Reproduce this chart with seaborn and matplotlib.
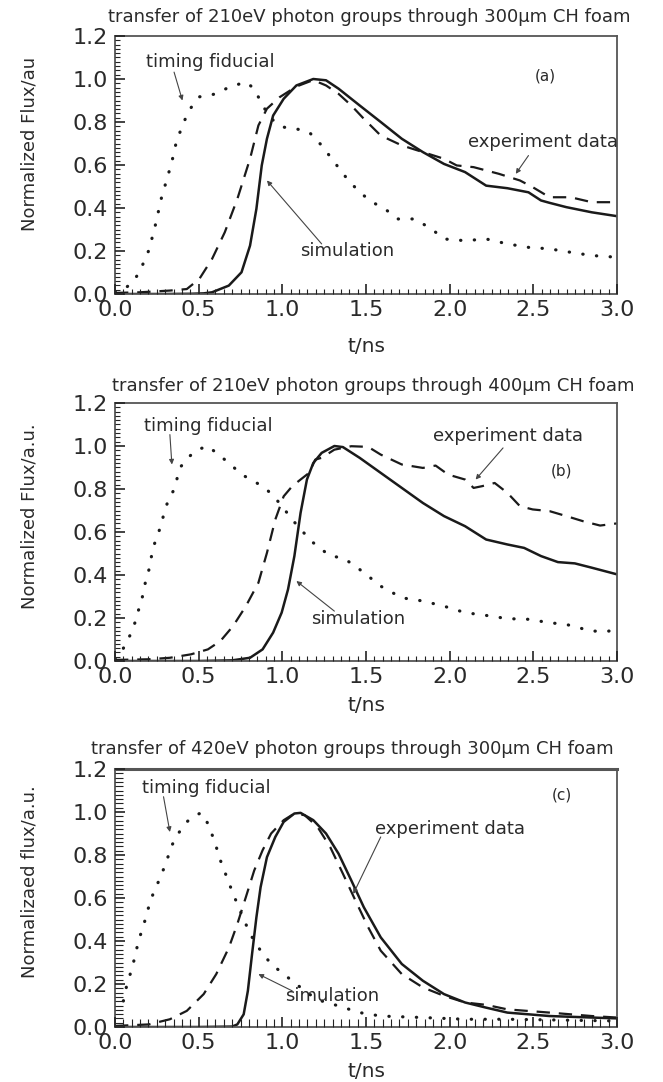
import matplotlib
matplotlib.use("Agg")
import matplotlib.pyplot as plt
import seaborn as sns
from matplotlib.ticker import MultipleLocator, FormatStrFormatter

# ---------------- panel (a): 210 eV, 300 um ----------------
fid_a_t = [0.0, 0.05, 0.10, 0.145, 0.203, 0.239, 0.279, 0.303, 0.339, 0.369, 0.399, 0.438,
           0.504, 0.605, 0.681, 0.782, 0.832, 0.882, 0.933, 1.008, 1.084, 1.160, 1.235,
           1.311, 1.387, 1.462, 1.538, 1.613, 1.689, 1.790, 1.891, 1.966, 2.092, 2.218,
           2.345, 2.471, 2.597, 2.723, 2.849, 3.0]
fid_a_v = [0.01, 0.02, 0.051, 0.099, 0.205, 0.313, 0.452, 0.515, 0.612, 0.716, 0.773, 0.850,
           0.917, 0.931, 0.962, 0.986, 0.955, 0.877, 0.815, 0.776, 0.768, 0.753, 0.691,
           0.613, 0.536, 0.473, 0.427, 0.396, 0.349, 0.349, 0.303, 0.256, 0.248, 0.256,
           0.233, 0.217, 0.210, 0.194, 0.179, 0.171]
exp_a_t = [0.0, 0.15, 0.328, 0.429, 0.504, 0.58, 0.656, 0.731, 0.807, 0.857, 0.908, 0.983,
           1.084, 1.185, 1.261, 1.336, 1.412, 1.487, 1.588, 1.714, 1.840, 1.966, 2.042,
           2.143, 2.294, 2.42, 2.496, 2.597, 2.723, 2.849, 3.0]
exp_a_v = [0.005, 0.008, 0.016, 0.023, 0.070, 0.163, 0.287, 0.442, 0.629, 0.784, 0.862, 0.915,
           0.965, 0.995, 0.970, 0.931, 0.877, 0.815, 0.737, 0.691, 0.660, 0.629, 0.598,
           0.590, 0.559, 0.528, 0.497, 0.450, 0.450, 0.427, 0.427]
sim_a_t = [0.0, 0.3, 0.45, 0.53, 0.58, 0.68, 0.756, 0.807, 0.845, 0.877, 0.908, 0.945, 1.008,
           1.084, 1.185, 1.261, 1.336, 1.462, 1.588, 1.714, 1.840, 1.966, 2.092, 2.218,
           2.345, 2.471, 2.546, 2.597, 2.697, 2.849, 3.0]
sim_a_v = [0.0, 0.0, 0.001, 0.003, 0.008, 0.039, 0.101, 0.225, 0.396, 0.598, 0.722, 0.830,
           0.908, 0.970, 1.0, 0.994, 0.955, 0.877, 0.80, 0.722, 0.660, 0.605, 0.567, 0.504,
           0.492, 0.473, 0.435, 0.424, 0.404, 0.380, 0.362]

# ---------------- panel (b): 210 eV, 400 um ----------------
fid_b_t = [0.0, 0.03, 0.060, 0.096, 0.120, 0.139, 0.160, 0.173, 0.189, 0.209, 0.219, 0.235,
           0.259, 0.279, 0.295, 0.319, 0.354, 0.388, 0.438, 0.488, 0.555, 0.605, 0.681,
           0.757, 0.832, 0.908, 0.983, 1.059, 1.109, 1.185, 1.286, 1.362, 1.437, 1.513,
           1.588, 1.714, 1.840, 1.966, 2.092, 2.218, 2.345, 2.471, 2.597, 2.697, 2.849,
           2.95, 3.0]
fid_b_v = [0.01, 0.03, 0.074, 0.129, 0.180, 0.233, 0.284, 0.335, 0.392, 0.439, 0.493, 0.543,
           0.594, 0.643, 0.694, 0.749, 0.799, 0.899, 0.947, 0.981, 1.0, 0.968, 0.921, 0.867,
           0.836, 0.797, 0.735, 0.658, 0.612, 0.55, 0.488, 0.48, 0.441, 0.395, 0.348, 0.294,
           0.279, 0.255, 0.225, 0.212, 0.197, 0.194, 0.178, 0.170, 0.139, 0.139, 0.147]
exp_b_t = [0.0, 0.2, 0.328, 0.454, 0.555, 0.63, 0.706, 0.782, 0.857, 0.908, 0.958, 1.008,
           1.059, 1.109, 1.160, 1.197, 1.235, 1.311, 1.412, 1.513, 1.588, 1.714, 1.84, 1.916,
           1.991, 2.092, 2.143, 2.193, 2.269, 2.345, 2.42, 2.496, 2.597, 2.697, 2.798,
           2.899, 3.0]
exp_b_v = [0.005, 0.008, 0.015, 0.031, 0.054, 0.093, 0.163, 0.255, 0.364, 0.503, 0.658,
           0.766, 0.813, 0.844, 0.875, 0.937, 0.945, 0.983, 0.999, 0.996, 0.96, 0.914, 0.898,
           0.909, 0.867, 0.844, 0.805, 0.813, 0.828, 0.782, 0.72, 0.705, 0.697, 0.674, 0.65,
           0.63, 0.64]
sim_b_t = [0.0, 0.5, 0.7, 0.807, 0.882, 0.945, 0.996, 1.034, 1.072, 1.109, 1.147, 1.185,
           1.235, 1.311, 1.362, 1.462, 1.588, 1.714, 1.840, 1.966, 2.092, 2.218, 2.345,
           2.445, 2.546, 2.647, 2.748, 2.849, 3.0]
sim_b_v = [0.0, 0.0, 0.003, 0.015, 0.054, 0.132, 0.225, 0.333, 0.488, 0.689, 0.844, 0.921,
           0.968, 1.0, 0.995, 0.945, 0.875, 0.805, 0.735, 0.674, 0.627, 0.565, 0.542, 0.526,
           0.488, 0.46, 0.454, 0.434, 0.403]

# ---------------- panel (c): 420 eV, 300 um ----------------
fid_c_t = [0.05, 0.076, 0.10, 0.129, 0.145, 0.166, 0.199, 0.235, 0.265, 0.303, 0.34, 0.378,
           0.429, 0.479, 0.517, 0.555, 0.593, 0.63, 0.668, 0.706, 0.756, 0.807, 0.870,
           0.933, 1.008, 1.084, 1.16, 1.235, 1.336, 1.462, 1.588, 1.84, 2.092, 2.345,
           2.597, 3.0]
fid_c_v = [0.121, 0.215, 0.265, 0.362, 0.413, 0.459, 0.552, 0.637, 0.684, 0.76, 0.845, 0.90,
           0.954, 0.985, 0.996, 0.946, 0.868, 0.775, 0.697, 0.619, 0.526, 0.433, 0.355,
           0.293, 0.246, 0.199, 0.153, 0.121, 0.098, 0.067, 0.051, 0.044, 0.036, 0.036,
           0.033, 0.028]
exp_c_t = [0.0, 0.202, 0.328, 0.429, 0.53, 0.605, 0.681, 0.731, 0.782, 0.832, 0.882, 0.933,
           1.008, 1.072, 1.134, 1.21, 1.286, 1.362, 1.437, 1.513, 1.588, 1.714, 1.84, 1.966,
           2.092, 2.218, 2.345, 2.597, 2.849, 3.0]
exp_c_v = [0.005, 0.012, 0.036, 0.075, 0.153, 0.246, 0.37, 0.479, 0.604, 0.728, 0.822, 0.9,
           0.962, 0.993, 0.985, 0.931, 0.837, 0.713, 0.588, 0.464, 0.355, 0.246, 0.184,
           0.145, 0.114, 0.103, 0.082, 0.067, 0.051, 0.044]
sim_c_t = [0.0, 0.5, 0.70, 0.731, 0.769, 0.794, 0.819, 0.845, 0.87, 0.908, 0.958, 1.008,
           1.072, 1.109, 1.185, 1.261, 1.336, 1.412, 1.487, 1.588, 1.714, 1.84, 1.966,
           2.092, 2.218, 2.345, 2.597, 2.849, 3.0]
sim_c_v = [0.0, 0.0, 0.002, 0.012, 0.059, 0.168, 0.339, 0.51, 0.65, 0.79, 0.884, 0.954,
           0.993, 0.996, 0.962, 0.90, 0.806, 0.682, 0.557, 0.417, 0.293, 0.215, 0.153,
           0.114, 0.09, 0.067, 0.051, 0.044, 0.04]

titles = ["transfer of 210eV photon groups through 300\u03bcm CH foam",
          "transfer of 210eV photon groups through 400\u03bcm CH foam",
          "transfer of 420eV photon groups through 300\u03bcm CH foam"]
ylabels = ["Normalized Flux/au", "Normalized Flux/a.u.", "Normalizaed flux/a.u."]
tags = ["(a)", "(b)", "(c)"]
xlabel = "t/ns"

sns.set_theme(style="white")
plt.rcParams["font.family"] = ["DejaVu Sans"]

INK = "#1a1a1a"
TXT = "#2a2a2a"
FRAME = "#555555"
TICK = "#222222"

fig = plt.figure(figsize=(6.63, 10.82), dpi=100)
fig.patch.set_facecolor("white")

W, H = 663.0, 1082.0
ax_left, ax_w, ax_h = 115 / W, 502 / W, 258 / H
ax_tops = [36, 403, 769]

panels = [
    dict(fid=(fid_a_t, fid_a_v), exp=(exp_a_t, exp_a_v), sim=(sim_a_t, sim_a_v),
         title_xy=(0.507, 1.074), ylab_y=0.581, xlab_y=-0.205,
         fid_txt=(0.57, 1.079), fid_arr=((0.353, 1.032), (0.403, 0.900)),
         exp_txt=(2.56, 0.706), exp_arr=((2.471, 0.644), (2.395, 0.559)),
         sim_txt=(1.39, 0.199), sim_arr=((1.235, 0.233), (0.908, 0.528)),
         tag_xy=(2.57, 1.014)),
    dict(fid=(fid_b_t, fid_b_v), exp=(exp_b_t, exp_b_v), sim=(sim_b_t, sim_b_v),
         title_xy=(0.514, 1.066), ylab_y=0.562, xlab_y=-0.171,
         fid_txt=(0.555, 1.092), fid_arr=((0.328, 1.053), (0.340, 0.914)),
         exp_txt=(2.35, 1.048), exp_arr=((2.319, 0.991), (2.155, 0.844)),
         sim_txt=(1.45, 0.194), sim_arr=((1.311, 0.232), (1.084, 0.372)),
         tag_xy=(2.67, 0.883)),
    dict(fid=(fid_c_t, fid_c_v), exp=(exp_c_t, exp_c_v), sim=(sim_c_t, sim_c_v),
         title_xy=(0.472, 1.078), ylab_y=0.564, xlab_y=-0.172,
         fid_txt=(0.548, 1.110), fid_arr=((0.29, 1.071), (0.328, 0.907)),
         exp_txt=(2.0, 0.923), exp_arr=((1.588, 0.884), (1.424, 0.619)),
         sim_txt=(1.30, 0.145), sim_arr=((1.059, 0.168), (0.857, 0.246)),
         tag_xy=(2.67, 1.079)),
]

arrow_kw = dict(arrowstyle="-|>", color="#444444", lw=0.8, mutation_scale=7,
                shrinkA=0, shrinkB=0)

for i, p in enumerate(panels):
    top = ax_tops[i]
    bottom = 1 - (top + 258) / H
    ax = fig.add_axes([ax_left, bottom, ax_w, ax_h])
    ax.set_facecolor("white")
    ax.set_axisbelow(False)

    sns.lineplot(x=p["fid"][0], y=p["fid"][1], ax=ax, color=INK, lw=2.3,
                 linestyle=(0, (0.1, 4.2)), dash_capstyle="round", sort=False)
    sns.lineplot(x=p["exp"][0], y=p["exp"][1], ax=ax, color=INK, lw=1.6,
                 linestyle=(0, (6, 4)), sort=False)
    sns.lineplot(x=p["sim"][0], y=p["sim"][1], ax=ax, color=INK, lw=1.8,
                 linestyle="-", sort=False)

    ax.set_xlim(0, 3.0)
    ax.set_ylim(0, 1.2)
    ax.xaxis.set_major_locator(MultipleLocator(0.5))
    ax.xaxis.set_minor_locator(MultipleLocator(0.05))
    ax.yaxis.set_major_locator(MultipleLocator(0.2))
    ax.yaxis.set_minor_locator(MultipleLocator(0.02))
    ax.xaxis.set_major_formatter(FormatStrFormatter("%.1f"))
    ax.yaxis.set_major_formatter(FormatStrFormatter("%.1f"))

    # inward ticks on the left and bottom edges only
    for axis in (ax.xaxis, ax.yaxis):
        axis.set_tick_params(which="both", direction="in", color=TICK,
                             tick1On=True, tick2On=False)
        axis.set_tick_params(which="major", length=7, width=1.2,
                             labelsize=16, labelcolor=TXT)
        axis.set_tick_params(which="minor", length=6 if i == 2 else 3.5, width=0.8)
    ax.xaxis.set_tick_params(which="major", pad=4)
    ax.yaxis.set_tick_params(which="major", pad=5)

    for name, sp in ax.spines.items():
        sp.set_visible(True)
        sp.set_color(FRAME)
        sp.set_linewidth(1.3)
    if i == 2:
        ax.spines["top"].set_linewidth(2.2)

    ax.set_xlabel(xlabel, fontsize=14.5, color=TXT, va="center")
    ax.xaxis.set_label_coords(0.5, p["xlab_y"])
    ax.set_ylabel(ylabels[i], fontsize=13, color=TXT, va="center")
    ax.yaxis.set_label_coords(-0.17, p["ylab_y"])

    ax.text(p["title_xy"][0], p["title_xy"][1], titles[i], transform=ax.transAxes,
            ha="center", va="center", fontsize=13, color=TXT)

    ax.text(*p["fid_txt"], "timing fiducial", ha="center", va="center",
            fontsize=13, color=TXT)
    ax.text(*p["exp_txt"], "experiment data", ha="center", va="center",
            fontsize=13, color=TXT)
    ax.text(*p["sim_txt"], "simulation", ha="center", va="center",
            fontsize=13, color=TXT)
    ax.text(*p["tag_xy"], tags[i], ha="center", va="center", fontsize=11, color=TXT)

    for key in ("fid_arr", "exp_arr", "sim_arr"):
        tail, tip = p[key]
        ax.annotate("", xy=tip, xytext=tail, arrowprops=arrow_kw)

fig.savefig("out.png", dpi=100, facecolor="white")
